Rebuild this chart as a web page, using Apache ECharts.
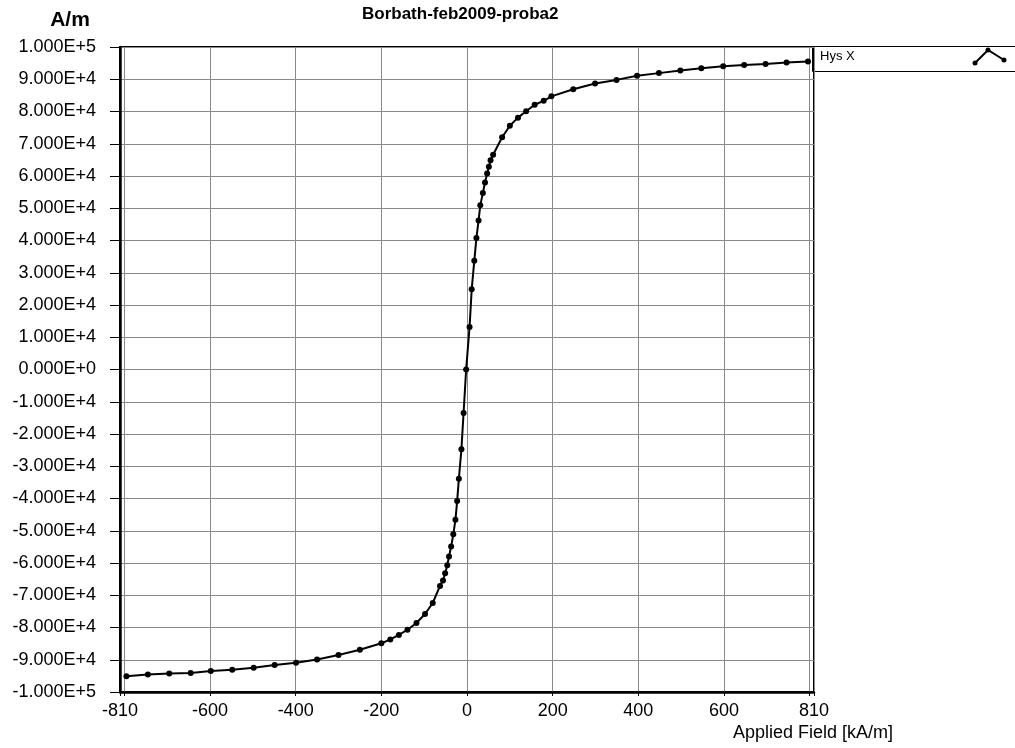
<!DOCTYPE html>
<html>
<head>
<meta charset="utf-8">
<script src="https://cdn.jsdelivr.net/npm/echarts@6/dist/echarts.min.js"></script>
<style>
html,body{margin:0;padding:0;background:#fff;}
#chart{width:1015px;height:748px;}
</style>
</head>
<body>
<div id="chart"></div>
<script>
// Applied field [kA/m]
const fieldValues = [
  -795, -745, -695, -645, -598, -548, -498, -449, -399, -350, -300, -250,
  -200, -179, -159, -139, -118, -98, -80, -63, -56, -51, -46, -42, -37,
  -32, -27, -23, -19, -13, -8, -2,
  6, 11, 17, 22, 27, 31, 37, 42, 47, 51, 55, 61, 82, 100, 119, 138, 158,
  179, 197, 248, 299, 349, 397, 448, 498, 547, 598, 647, 697, 746, 796
];
// Magnetization [A/m]
const magnetization = [
  -95100, -94600, -94300, -94100, -93500, -93100, -92500, -91600, -90900, -89900, -88500, -86900,
  -84900, -83700, -82300, -80700, -78600, -75800, -72400, -67100, -65400, -63200, -60700, -58000, -54900,
  -51100, -46600, -40800, -33900, -24700, -13500, 0,
  13200, 24900, 33700, 40800, 46200, 50900, 54700, 58000, 60800, 62900, 64900, 66600, 72000, 75600, 78100, 80100, 82100,
  83300, 84700, 86900, 88700, 89800, 91100, 91900, 92700, 93400, 94000, 94400, 94700, 95200, 95500
];
const xLabelValues = [-810, -600, -400, -200, 0, 200, 400, 600, 810];
const xGridValues = [-810, -800, -600, -400, -200, 0, 200, 400, 600, 800, 810];
const seriesName = 'Hys X';
const chartTitle = 'Borbath-feb2009-proba2';
const yAxisName = 'A/m';
const xAxisName = 'Applied Field [kA/m]';

const FONT = '"Liberation Sans", Arial, sans-serif';
function sci(v) {
  v = Math.round(v);
  if (v === 0) return '0.000E+0';
  const e = Math.floor(Math.log10(Math.abs(v)) + 1e-9);
  const m = v / Math.pow(10, e);
  return m.toFixed(3) + 'E+' + e;
}

const chart = echarts.init(document.getElementById('chart'));
chart.setOption({
  animation: false,
  backgroundColor: '#fff',
  title: {
    text: chartTitle,
    left: 357, top: 1,
    textStyle: { fontFamily: FONT, fontWeight: 'bold', fontSize: 17, color: '#000' }
  },
  legend: {
    data: [seriesName],
    left: 815, top: 50,
    itemWidth: 0, itemHeight: 0,
    icon: 'rect',
    padding: 0,
    selectedMode: false,
    textStyle: { fontFamily: FONT, fontSize: 13, color: '#000' }
  },
  graphic: [
    { type: 'rect', left: 812, top: 46, z: -1,
      shape: { width: 210, height: 25 },
      style: { fill: '#fff', stroke: '#000', lineWidth: 1 } },
    { type: 'polyline', z: 10,
      shape: { points: [[975, 63], [988, 50], [1004, 60]] },
      style: { stroke: '#000', lineWidth: 2, fill: null } },
    { type: 'circle', z: 10, shape: { cx: 975, cy: 63, r: 2.5 }, style: { fill: '#000' } },
    { type: 'circle', z: 10, shape: { cx: 988, cy: 50, r: 2.5 }, style: { fill: '#000' } },
    { type: 'circle', z: 10, shape: { cx: 1004, cy: 60, r: 2.5 }, style: { fill: '#000' } },
    { type: 'text', z: 10,
      style: { text: xAxisName, x: 893, y: 733, align: 'right', verticalAlign: 'middle',
        font: '18px "Liberation Sans", Arial, sans-serif', fill: '#000' } }
  ],
  grid: {
    left: 120, right: 201, top: 47, bottom: 56,
    show: true, borderColor: '#000', borderWidth: 2,
    containLabel: false
  },
  xAxis: {
    type: 'value',
    min: -810, max: 810,
    axisLine: { show: true, onZero: false, lineStyle: { color: '#000', width: 2.5 } },
    axisTick: { show: true, length: 4, customValues: xGridValues, lineStyle: { color: '#000' } },
    axisLabel: { customValues: xLabelValues, margin: 10, fontFamily: FONT, fontSize: 18, color: '#000',
      showMinLabel: true, showMaxLabel: true },
    splitLine: { show: true, lineStyle: { color: '#8a8a8a', width: 1 } }
  },
  yAxis: {
    type: 'value',
    min: -100000, max: 100000, interval: 10000,
    name: yAxisName,
    nameLocation: 'end',
    nameGap: 16,
    nameTextStyle: { fontFamily: FONT, fontSize: 21, fontWeight: 'bold', color: '#000', padding: [0, 100, 0, 0] },
    axisLine: { show: true, onZero: false, lineStyle: { color: '#000', width: 2.5 } },
    axisTick: { show: true, length: 10, lineStyle: { color: '#000' } },
    axisLabel: { formatter: sci, margin: 24, fontFamily: FONT, fontSize: 18, color: '#000' },
    splitLine: { show: true, lineStyle: { color: '#8a8a8a', width: 1 } }
  },
  series: [{
    name: seriesName,
    type: 'line',
    data: fieldValues.map((x, i) => [x, magnetization[i]]),
    symbol: 'circle',
    symbolSize: 6,
    showSymbol: true,
    showAllSymbol: true,
    lineStyle: { color: '#000', width: 2 },
    itemStyle: { color: '#000' },
    z: 5
  }]
});
</script>
</body>
</html>
